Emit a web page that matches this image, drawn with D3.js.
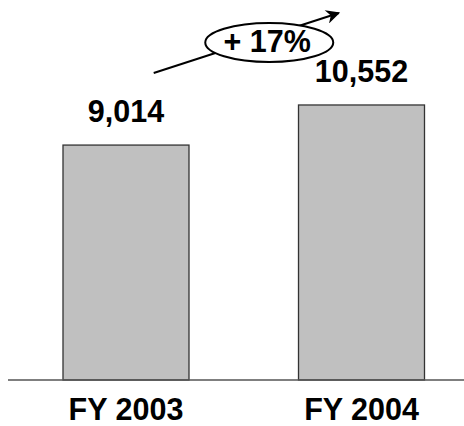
<!DOCTYPE html>
<html>
<head>
<meta charset="utf-8">
<script src="https://cdn.jsdelivr.net/npm/d3@7"></script>
<style>
  html, body { margin: 0; padding: 0; background: #fff; }
  svg { display: block; }
</style>
</head>
<body>
<svg id="chart" width="464" height="426"></svg>
<script>
const categories = ["FY 2003", "FY 2004"];
const values = [9014, 10552];
const valueLabels = ["9,014", "10,552"];
const growthLabel = "+ 17%";

const W = 464, H = 426;
const svg = d3.select("#chart");
const FONT = "'Liberation Sans', Arial, sans-serif";
const FS = 30.5;

const baseY = 380;
const x = d3.scaleBand().domain(categories).range([63, 424.5]).paddingInner(0.465).paddingOuter(0);
const y = d3.scaleLinear().domain([0, 14580]).range([baseY, 0]);

// bars
svg.selectAll("rect.bar").data(values).enter().append("rect")
  .attr("class", "bar")
  .attr("x", (d, i) => x(categories[i]))
  .attr("y", d => y(d))
  .attr("width", x.bandwidth())
  .attr("height", d => baseY - y(d))
  .attr("fill", "#c0c0c0")
  .attr("stroke", "#333")
  .attr("stroke-width", 1.3);

// baseline axis
const axis = d3.axisBottom(x).tickSize(0).tickPadding(0);
const gAxis = svg.append("g").attr("transform", `translate(0,${baseY})`).call(axis);
gAxis.select(".domain").remove();
gAxis.attr("font-size", FS).attr("font-family", FONT);
gAxis.selectAll("text")
  .attr("dy", null)
  .attr("y", 39.5)
  .style("font-family", FONT)
  .style("font-size", FS + "px")
  .style("font-weight", "bold")
  .attr("fill", "#000");
svg.append("line")
  .attr("x1", 8).attr("x2", W)
  .attr("y1", baseY).attr("y2", baseY)
  .attr("stroke", "#555").attr("stroke-width", 1.5);

// value labels
svg.selectAll("text.val").data(values).enter().append("text")
  .attr("class", "val")
  .attr("x", (d, i) => x(categories[i]) + x.bandwidth() / 2)
  .attr("y", d => y(d) - 23)
  .attr("text-anchor", "middle")
  .style("font-family", FONT)
  .style("font-size", FS + "px")
  .style("font-weight", "bold")
  .attr("fill", "#000")
  .text((d, i) => valueLabels[i]);

// growth arrow
const defs = svg.append("defs");
defs.append("marker")
  .attr("id", "ah")
  .attr("viewBox", "0 0 10 10")
  .attr("refX", 9).attr("refY", 5)
  .attr("markerWidth", 8).attr("markerHeight", 7)
  .attr("markerUnits", "strokeWidth")
  .attr("orient", "auto")
  .append("path").attr("d", "M0,0 L10,5 L0,10 L3,5 Z").attr("fill", "#000");

const x0 = x(categories[0]) + x.bandwidth() * 0.72;
const x1 = x(categories[1]) + x.bandwidth() * 0.32;
svg.append("line")
  .attr("x1", x0).attr("y1", 73)
  .attr("x2", x1).attr("y2", 13)
  .attr("stroke", "#000").attr("stroke-width", 2)
  .attr("marker-end", "url(#ah)");

const cx = (x(categories[0]) + x(categories[1]) + x.bandwidth()) / 2 + 25.5;
svg.append("ellipse")
  .attr("cx", cx).attr("cy", 42.5)
  .attr("rx", 64).attr("ry", 19.5)
  .attr("fill", "#fff")
  .attr("stroke", "#000").attr("stroke-width", 2);
svg.append("text")
  .attr("x", cx - 2).attr("y", 51.5)
  .attr("text-anchor", "middle")
  .style("font-family", FONT)
  .style("font-size", FS + "px")
  .style("font-weight", "bold")
  .attr("fill", "#000")
  .text(growthLabel);
</script>
</body>
</html>
